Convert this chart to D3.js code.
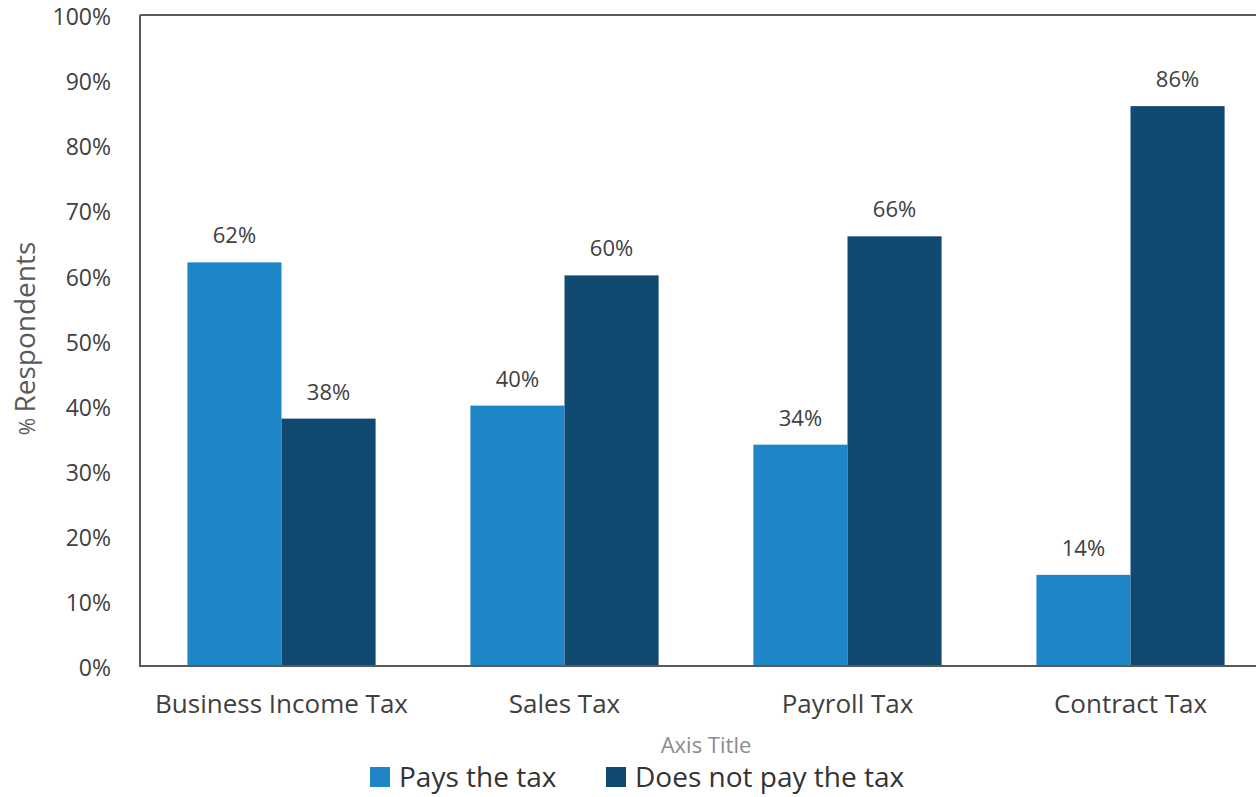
<!DOCTYPE html>
<html>
<head>
<meta charset="utf-8">
<script src="https://cdn.jsdelivr.net/npm/d3@7"></script>
<style>
  html, body { margin: 0; padding: 0; background: #fff; }
  svg { display: block; font-family: "Open Sans", "Noto Sans", sans-serif; }
</style>
</head>
<body>
<svg id="chart" width="1256" height="797"></svg>
<script>
// Tax categories and share of respondents (%) per answer
const categories = ["Business Income Tax", "Sales Tax", "Payroll Tax", "Contract Tax"];
const seriesNames = ["Pays the tax", "Does not pay the tax"];
const paysValues = [62, 40, 34, 14];
const doesNotPayValues = [38, 60, 66, 86];
const yTicks = [0, 10, 20, 30, 40, 50, 60, 70, 80, 90, 100];
const colors = ["#1e86c7", "#104a71"];

const svg = d3.select("#chart");
const margin = { left: 140, top: 15, right: -16, bottom: 131 };
const W = 1256, H = 797;
const x0 = margin.left, x1 = W - margin.right;
const y0 = H - margin.bottom, y1 = margin.top;

const x = d3.scaleBand().domain(categories).range([x0, x1]).paddingInner(0.335).paddingOuter(0.1675);
const xs = d3.scaleBand().domain(seriesNames).range([0, x.bandwidth()]);
const y = d3.scaleLinear().domain([0, 100]).range([y0, y1]);

const rows = categories.map((c, i) => ({ cat: c, vals: [paysValues[i], doesNotPayValues[i]] }));

// Bars
const g = svg.append("g");
const groups = g.selectAll("g.cat").data(rows).join("g")
  .attr("transform", d => `translate(${x(d.cat)},0)`);
groups.selectAll("rect").data(d => d.vals.map((v, k) => ({ v, k })))
  .join("rect")
  .attr("x", d => xs(seriesNames[d.k]))
  .attr("width", xs.bandwidth())
  .attr("y", d => y(d.v))
  .attr("height", d => y(0) - y(d.v))
  .attr("fill", d => colors[d.k]);
groups.selectAll("text").data(d => d.vals.map((v, k) => ({ v, k })))
  .join("text")
  .attr("x", d => xs(seriesNames[d.k]) + xs.bandwidth() / 2)
  .attr("y", d => y(d.v) - 19)
  .attr("text-anchor", "middle")
  .attr("font-size", 22)
  .attr("fill", "#404040")
  .text(d => d.v + "%");

// Frame: left, top and bottom lines
const frame = svg.append("g").attr("stroke", "#595959").attr("stroke-width", 2).attr("fill", "none");
frame.append("line").attr("x1", x0).attr("x2", x0).attr("y1", y1).attr("y2", y0 + 1);
frame.append("line").attr("x1", x0).attr("x2", W + 20).attr("y1", y1).attr("y2", y1);
frame.append("line").attr("x1", x0).attr("x2", W + 20).attr("y1", y0).attr("y2", y0);

// Y axis labels
const yAxis = d3.axisLeft(y).tickValues(yTicks).tickFormat(d => d + "%").tickSize(0).tickPadding(29);
const ya = svg.append("g").attr("transform", `translate(${x0},0)`).call(yAxis);
ya.select(".domain").remove();
ya.selectAll("text")
  .attr("font-size", 23)
  .attr("dy", "0.42em")
  .attr("fill", "#404040")
  .attr("font-family", "'Open Sans', sans-serif");

// X axis labels
const xAxis = d3.axisBottom(x).tickSize(0).tickPadding(29);
const xa = svg.append("g").attr("transform", `translate(0,${y0})`).call(xAxis);
xa.select(".domain").remove();
xa.selectAll("text").attr("font-size", 26).attr("fill", "#404040").attr("font-family", "'Open Sans', sans-serif");

// Axis titles
svg.append("text")
  .attr("transform", `translate(35,${(y0 + y1) / 2 - 2}) rotate(-90)`)
  .attr("text-anchor", "middle")
  .attr("fill", "#595959")
  .call(t => {
    t.append("tspan").attr("font-size", 21).text("% ");
    t.append("tspan").attr("font-size", 28).text("Respondents");
  });
svg.append("text")
  .attr("x", 706).attr("y", 753)
  .attr("text-anchor", "middle")
  .attr("font-size", 22)
  .attr("fill", "#8c8c8c")
  .text("Axis Title");

// Legend
const legendX = [370, 606];
const leg = svg.append("g").selectAll("g").data(seriesNames).join("g")
  .attr("transform", (d, i) => `translate(${legendX[i]},767)`);
leg.append("rect").attr("width", 20).attr("height", 20).attr("fill", (d, i) => colors[i]);
leg.append("text").attr("x", 29).attr("y", 20).attr("font-size", 28).attr("fill", "#333")
  .text(d => d);
</script>
</body>
</html>
